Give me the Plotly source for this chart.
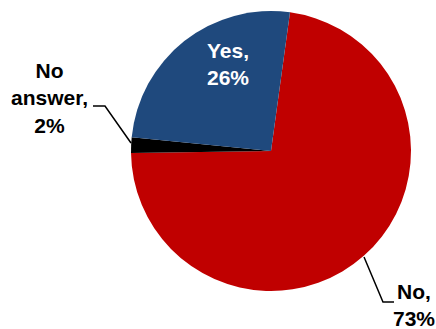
import plotly.graph_objects as go

# slices, clockwise from the top
labels = ["No", "No answer", "Yes"]
values = [72.6, 1.8, 25.6]
colors = ["#C00000", "#000000", "#1F497D"]

W, H = 436, 329


def px(x):
    return x / W


def py(y):
    return 1 - y / H


total = sum(values)
pct = [f"{round(v / total * 100)}%" for v in values]

fig = go.Figure(go.Pie(
    labels=labels,
    values=values,
    sort=False,
    direction="clockwise",
    rotation=7.8,
    marker=dict(colors=colors, line=dict(width=0)),
    textinfo="none",
    hoverinfo="label+percent",
    domain=dict(x=[px(131), px(411)], y=[py(291), py(11)]),
))

font = dict(family="Arial, Liberation Sans, sans-serif", size=21, color="black")

# label positions (pixel centres of the text blocks)
label_pos = {
    "Yes": (228, 64, "white", "Yes,"),
    "No answer": (49, 98, "black", "No<br>answer,"),
    "No": (414, 305, "black", "No,"),
}

for lab, p in zip(labels, pct):
    x, y, c, head = label_pos[lab]
    fig.add_annotation(
        x=px(x), y=py(y), xref="paper", yref="paper",
        text=f"<b>{head}<br>{p}</b>", showarrow=False,
        xanchor="center", yanchor="middle", align="center",
        font=dict(font, color=c),
    )

# leader lines
leaders = [
    [(93, 106), (105, 106), (131, 143)],
    [(364, 257), (383, 302), (394, 302)],
]
for pts in leaders:
    path = "M " + " L ".join(f"{px(a):.4f},{py(b):.4f}" for a, b in pts)
    fig.add_shape(type="path", path=path, xref="paper", yref="paper",
                  line=dict(color="black", width=1.5))

fig.update_layout(
    width=W, height=H,
    margin=dict(l=0, r=0, t=0, b=0),
    showlegend=False,
    paper_bgcolor="white",
    plot_bgcolor="white",
)

fig.write_html("out.html", config={"displayModeBar": False},
               post_script="document.body.style.margin='0';")
